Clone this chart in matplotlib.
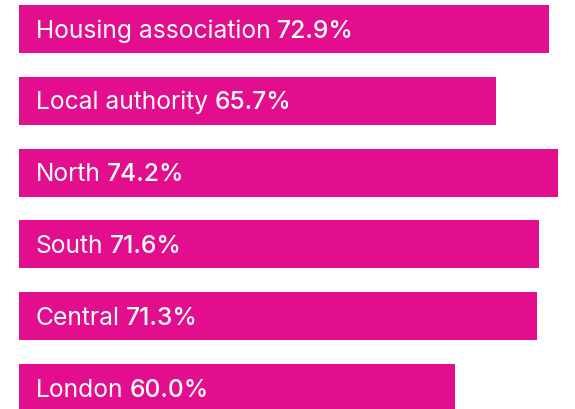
import matplotlib
matplotlib.use("Agg")
import matplotlib.pyplot as plt

labels = ["Housing association", "Local authority", "North", "South", "Central", "London"]
values = [72.9, 65.7, 74.2, 71.6, 71.3, 60.0]

bar_color = "#E20E8E"
plt.rcParams['font.family'] = ['Inter', 'DejaVu Sans']

fig = plt.figure(figsize=(5.75, 4.09), dpi=100)
ax = fig.add_axes([0, 0, 1, 1])
ax.set_xlim(-19 / 7.264, 556 / 7.264)
ax.set_ylim((409 - 29) / 71.8, -29 / 71.8)
ax.axis('off')

ypos = list(range(len(labels)))
ax.barh(ypos, values, height=0.67, color=bar_color)

fig.canvas.draw()
renderer = fig.canvas.get_renderer()
for i, (lab, val) in enumerate(zip(labels, values)):
    t = ax.text(2.34, i + 0.12, lab, color='white', fontsize=17.7, va='baseline', ha='left')
    bb = t.get_window_extent(renderer)
    x1 = ax.transData.inverted().transform((bb.x1, 0))[0]
    ax.text(x1 + 0.85, i + 0.12, f"{val:.1f}%", color='white', fontsize=17.7,
            fontweight='medium', va='baseline', ha='left')

fig.savefig("out.png", dpi=100)
